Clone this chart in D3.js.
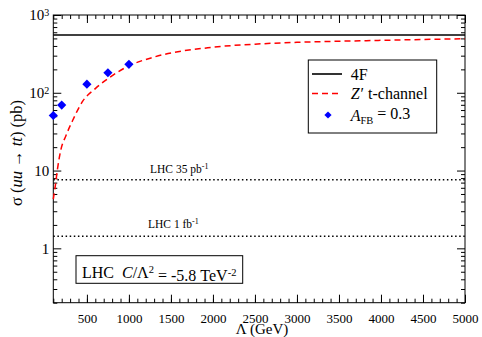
<!DOCTYPE html>
<html><head><meta charset="utf-8">
<script src="https://cdn.jsdelivr.net/npm/d3@7"></script>
<style>
body{margin:0;background:#fff;}
svg, svg text{font-family:"Liberation Serif","Times New Roman",Times,serif;fill:#000;}
</style></head>
<body><svg id="c" width="482" height="337" font-family="Liberation Serif"></svg>
<script>
// ---- data ----
const lambdaZ = [100, 125, 150, 190, 250, 330, 450, 600, 775, 1000, 1300, 2000, 2500, 3000, 4000, 5000];
const sigmaZ  = [4.3, 6.5, 10.5, 18.5, 28, 44, 78, 113, 159, 222, 288, 385, 422, 445, 472, 496];
const sigma4F = 553;
const lambdaAFB = [100, 200, 500, 750, 1000];
const sigmaAFB  = [51, 69.5, 129, 181, 232];
const lhcLines = [{label:"LHC 35 pb", sup:"-1", value:7.6}, {label:"LHC 1 fb", sup:"-1", value:1.43}];
const xMajor = [500,1000,1500,2000,2500,3000,3500,4000,4500,5000];
const xMinor = d3.range(100, 5001, 100);
const yMajor = [1, 10, 100, 1000];
const yMinor = [0.2,0.3,0.4,0.5,0.6,0.7,0.8,0.9,2,3,4,5,6,7,8,9,20,30,40,50,60,70,80,90,200,300,400,500,600,700,800,900];

const FONT = "'Liberation Serif', 'Times New Roman', serif";
const L=53.3, R=465, T=15, B=302.7;
const svg = d3.select("#c");
const x = d3.scaleLinear().domain([100,5000]).range([L,R]);
const y = d3.scaleLog().domain([0.2,1000]).range([B,T]);

function clean(g){
  g.select(".domain").remove();
  g.attr("font-family",FONT);
  g.selectAll("line").attr("stroke","#000");
  g.selectAll("text").style("font-family",FONT);
}
// bottom
svg.append("g").attr("transform",`translate(0,${B})`)
  .call(d3.axisBottom(x).tickValues(xMinor).tickSize(-4).tickFormat("")).call(clean);
svg.append("g").attr("transform",`translate(0,${B})`)
  .call(d3.axisBottom(x).tickValues(xMajor).tickSize(-8).tickPadding(10.8).tickFormat(d3.format("d")))
  .call(clean).call(g=>g.selectAll("text").attr("font-size",13));
// top
svg.append("g").attr("transform",`translate(0,${T})`)
  .call(d3.axisTop(x).tickValues(xMinor).tickSize(-4).tickFormat("")).call(clean);
svg.append("g").attr("transform",`translate(0,${T})`)
  .call(d3.axisTop(x).tickValues(xMajor).tickSize(-8).tickFormat("")).call(clean);
// left
svg.append("g").attr("transform",`translate(${L},0)`)
  .call(d3.axisLeft(y).tickValues(yMinor).tickSize(-4).tickFormat("")).call(clean);
const yl = svg.append("g").attr("transform",`translate(${L},0)`)
  .call(d3.axisLeft(y).tickValues(yMajor).tickSize(-8).tickPadding(4).tickFormat(d=>d>=100?"10":String(d)))
  .call(clean);
yl.selectAll("text").attr("font-size",15).each(function(d){
  if(d>=100){
    const t=d3.select(this);
    t.append("tspan").attr("dy","-0.45em").attr("font-size",10).text(String(Math.round(Math.log10(d))));
  }
});
// right
svg.append("g").attr("transform",`translate(${R},0)`)
  .call(d3.axisRight(y).tickValues(yMinor).tickSize(-4).tickFormat("")).call(clean);
svg.append("g").attr("transform",`translate(${R},0)`)
  .call(d3.axisRight(y).tickValues(yMajor).tickSize(-8).tickFormat("")).call(clean);

// frame
svg.append("rect").attr("x",L).attr("y",T).attr("width",R-L).attr("height",B-T)
  .attr("fill","none").attr("stroke","#000").attr("stroke-width",1);

// LHC dotted lines
lhcLines.forEach(l=>{
  svg.append("line").attr("x1",L).attr("x2",R).attr("y1",y(l.value)).attr("y2",y(l.value))
    .attr("stroke","#000").attr("stroke-width",1.5).attr("stroke-dasharray","1.5,2.6");
});
const lt1 = svg.append("text").attr("x",150).attr("y",y(lhcLines[0].value)-7).attr("font-size",11.5).text(lhcLines[0].label);
lt1.append("tspan").attr("dy","-0.5em").attr("font-size",8).text(lhcLines[0].sup);
const lt2 = svg.append("text").attr("x",148).attr("y",y(lhcLines[1].value)-8).attr("font-size",11.5).text(lhcLines[1].label);
lt2.append("tspan").attr("dy","-0.5em").attr("font-size",8).text(lhcLines[1].sup);

// 4F line
svg.append("line").attr("x1",L).attr("x2",R).attr("y1",y(sigma4F)).attr("y2",y(sigma4F))
  .attr("stroke","#000").attr("stroke-width",1.6);

// Z' curve
const zdata = lambdaZ.map((l,i)=>[l,sigmaZ[i]]);
svg.append("path").datum(zdata)
  .attr("d",d3.line().x(d=>x(d[0])).y(d=>y(d[1])).curve(d3.curveMonotoneX))
  .attr("fill","none").attr("stroke","#ff0000").attr("stroke-width",1.5).attr("stroke-dasharray","6,4");

// AFB diamonds
const sym = d3.symbol().type(d3.symbolSquare).size(42);
svg.selectAll(".afb").data(lambdaAFB.map((l,i)=>[l,sigmaAFB[i]])).join("path")
  .attr("transform",d=>`translate(${x(d[0])},${y(d[1])}) rotate(45)`)
  .attr("d",sym).attr("fill","#0000ff");

// legend
const lg = svg.append("g");
lg.append("rect").attr("x",308.3).attr("y",60).attr("width",128.4).attr("height",73)
  .attr("fill","#fff").attr("stroke","#000").attr("stroke-width",1);
lg.append("line").attr("x1",312).attr("x2",342).attr("y1",74).attr("y2",74).attr("stroke","#000").attr("stroke-width",1.6);
lg.append("text").attr("x",350.7).attr("y",79.5).attr("font-size",16).text("4F");
lg.append("line").attr("x1",312).attr("x2",342).attr("y1",93.5).attr("y2",93.5).attr("stroke","#ff0000").attr("stroke-width",1.5).attr("stroke-dasharray","6,4");
const zt = lg.append("text").attr("x",350.7).attr("y",99).attr("font-size",16);
zt.append("tspan").attr("font-style","italic").text("Z′");
zt.append("tspan").attr("dx",5).text("t-channel");
lg.append("path").attr("transform","translate(328,115) rotate(45)").attr("d",d3.symbol().type(d3.symbolSquare).size(26)).attr("fill","#0000ff");
const at = lg.append("text").attr("x",350.7).attr("y",120.5).attr("font-size",16);
at.append("tspan").attr("font-style","italic").text("A");
at.append("tspan").attr("dy","0.3em").attr("font-size",10.5).text("FB");
at.append("tspan").attr("dy","-0.3em").text(" = 0.3");

// LHC box
svg.append("rect").attr("x",76).attr("y",255.7).attr("width",166.7).attr("height",27.6)
  .attr("fill","#fff").attr("stroke","#000").attr("stroke-width",1);
const bt = svg.append("text").attr("x",82).attr("y",278).attr("font-size",16);
bt.append("tspan").text("LHC");
bt.append("tspan").attr("dx",8).attr("font-style","italic").text("C");
bt.append("tspan").text("/Λ");
bt.append("tspan").attr("dy","-0.5em").attr("font-size",10.5).text("2");
bt.append("tspan").attr("dy","0.5em").text(" = -5.8 TeV");
bt.append("tspan").attr("dy","-0.5em").attr("font-size",10.5).text("-2");

// axis titles
svg.append("text").attr("x",262).attr("y",334).attr("text-anchor","middle").attr("font-size",15).text("Λ (GeV)");
const yt = svg.append("text").attr("transform","translate(22,153) rotate(-90)").attr("text-anchor","middle").attr("font-size",16.5);
yt.append("tspan").text("σ (");
yt.append("tspan").attr("font-style","italic").text("uu");
yt.append("tspan").text(" → ");
yt.append("tspan").attr("font-style","italic").text("tt");
yt.append("tspan").text(") (pb)");

svg.selectAll("text").style("font-family",FONT);
</script></body></html>
